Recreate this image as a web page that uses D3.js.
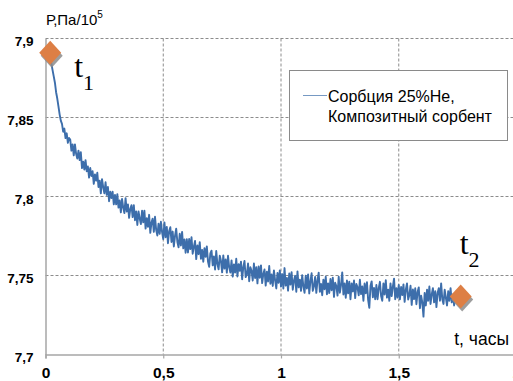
<!DOCTYPE html>
<html><head><meta charset="utf-8">
<script src="https://cdn.jsdelivr.net/npm/d3@7"></script>
<style>body{margin:0;background:#fff}svg{display:block}</style>
</head><body><svg id="c" width="513" height="381"></svg>
<script>
// sampling: t0 = 0.02 h, step 0.005 h
const t0 = 0.02, dt = 0.005;
const pressure = [
7.888,7.884,7.880,7.876,7.872,7.866,7.862,7.857,7.852,7.848,7.846,7.841,7.843,7.837,7.840,7.834,7.837,
7.836,7.829,7.833,7.826,7.833,7.827,7.824,7.829,7.823,7.828,7.818,7.822,7.817,7.823,7.816,7.819,7.812,7.818,7.813,7.816,
7.808,7.814,7.810,7.815,7.806,7.810,7.802,7.811,7.806,7.802,7.809,7.801,7.806,7.797,7.803,7.799,7.803,7.795,7.801,7.795,
7.8015,7.793,7.7975,7.790,7.7985,7.793,7.7895,7.799,7.7905,7.795,7.7865,7.792,7.7945,7.787,7.7945,7.785,7.7905,7.782,7.7905,7.786,
7.7825,7.791,7.7836,7.791,7.7797,7.7863,7.7808,7.7884,7.777,7.7835,7.786,7.7776,7.7872,7.7787,7.7753,7.7828,7.7764,7.784,7.7775,7.773,
7.7836,7.7742,7.7808,7.7704,7.778,7.7806,7.7712,7.7778,7.7684,7.775,7.7796,7.7712,7.7678,7.7764,7.769,7.7776,7.7672,7.7728,7.7644,7.773,
7.7646,7.7731,7.7667,7.7742,7.7638,7.7683,7.7719,7.7604,7.769,7.7635,7.7711,7.7606,7.7662,7.7587,7.7673,7.7618,7.7684,7.7589,7.7555,7.764,
7.7657,7.7564,7.7621,7.7538,7.7655,7.7572,7.7539,7.7626,7.7593,7.752,7.7627,7.7544,7.7601,7.7518,7.7625,7.7552,7.7519,7.7596,7.7493,7.757,
7.7518,7.7606,7.7494,7.7572,7.753,7.7588,7.7476,7.7554,7.7592,7.749,7.7508,7.7576,7.7464,7.7552,7.753,7.7468,7.7576,7.7484,7.7552,7.745,
7.7558,7.7486,7.7564,7.7452,7.751,7.7538,7.7436,7.7524,7.7462,7.756,7.7448,7.7506,7.7434,7.7532,7.747,7.7418,7.7516,7.7454,7.7532,7.743,
7.7509,7.7418,7.7547,7.7436,7.7485,7.7404,7.7513,7.7442,7.7521,7.741,7.7469,7.7498,7.7397,7.7526,7.7425,7.7474,7.7403,7.7502,7.7431,7.739,
7.7499,7.7418,7.7507,7.7386,7.7465,7.7514,7.7403,7.7432,7.7491,7.739,7.7469,7.7518,7.7397,7.7446,7.7375,7.7474,7.7413,7.7492,7.7381,7.745,
7.7389,7.7478,7.7407,7.7486,7.7365,7.7454,7.7433,7.7373,7.7492,7.7391,7.7441,7.7520,7.738,7.745,7.7359,7.7468,7.7387,7.7461,7.735,7.745,
7.7399,7.7468,7.7357,7.7446,7.7425,7.7374,7.7473,7.7382,7.7431,7.734,7.7449,7.7388,7.7457,7.7346,7.7295,7.7434,7.7463,7.7362,7.7421,7.735,
7.744,7.735,7.742,7.746,7.737,7.734,7.745,7.738,7.747,7.736,7.741,7.734,7.745,7.737,7.743,7.748,7.735,7.742,7.736,7.744,
7.7349,7.7427,7.7376,7.7444,7.7333,7.7411,7.745,7.7348,7.7377,7.7435,7.7314,7.7412,7.7351,7.7419,7.7318,7.7396,7.7425,7.7293,7.7372,7.733,
7.724,7.739,7.731,7.741,7.734,7.743,7.732,7.738,7.742,7.733,7.740,7.730,7.739,7.742,7.734,7.745,7.735,7.732,7.741,7.736,
7.731,7.740,7.734,7.742,7.733,7.738,7.731,7.739,7.735,7.737
];
const markers = [
  {t: 0.02, p: 7.891, label: "t", sub: "1"},
  {t: 1.763, p: 7.7367, label: "t", sub: "2"}
];
const xTicks = [0, 0.5, 1, 1.5, 2];
const xTickLabels = ["0", "0,5", "1", "1,5", "2"];
const yTicks = [7.7, 7.75, 7.8, 7.85, 7.9];
const yTickLabels = ["7,7", "7,75", "7,8", "7,85", "7,9"];
const seriesName = ["Сорбция 25%Не,", "Композитный сорбент"];

const svg = d3.select("#c");
const x = d3.scaleLinear().domain([0, 2]).range([45.5, 516.5]);
const y = d3.scaleLinear().domain([7.7, 7.9]).range([354.5, 38.5]);
const grid = "#8c8c8c", axisCol = "#a6a6a6";
const sans = "Liberation Sans, Arial, sans-serif";

// gridlines
svg.append("g").selectAll("line").data(yTicks.filter(v => v > 7.7)).join("line")
  .attr("x1", x(0)).attr("x2", 513).attr("y1", d => y(d)).attr("y2", d => y(d))
  .attr("stroke", grid).attr("stroke-width", 1).attr("stroke-dasharray", "3,2");
svg.append("g").selectAll("line").data(xTicks.filter(v => v > 0)).join("line")
  .attr("x1", d => x(d)).attr("x2", d => x(d)).attr("y1", y(7.9)).attr("y2", y(7.7))
  .attr("stroke", grid).attr("stroke-width", 1).attr("stroke-dasharray", "3,2");

// axes
const xAxis = svg.append("g").attr("transform", `translate(0,${y(7.7)})`)
  .call(d3.axisBottom(x).tickValues(xTicks).tickFormat((d, i) => xTickLabels[i]).tickSize(4).tickPadding(5));
const yAxis = svg.append("g").attr("transform", `translate(${x(0)},0)`)
  .call(d3.axisLeft(y).tickValues(yTicks).tickFormat((d, i) => yTickLabels[i]).tickSize(0).tickPadding(12));
[xAxis, yAxis].forEach(a => {
  a.select(".domain").attr("stroke", axisCol).attr("stroke-width", 1.5);
  a.selectAll(".tick line").attr("stroke", axisCol).attr("stroke-width", 1.2);
  a.selectAll("text").attr("fill", "#000").style("font-family", sans).style("font-weight", "bold");
});
yAxis.selectAll("text").style("font-size", "13.5px").attr("dy", "0.5em");
xAxis.selectAll("text").style("font-size", "15.5px").attr("dy", "0.95em");

// series
const data = pressure.map((p, i) => ({t: t0 + i * dt, p}));
svg.append("path").datum(data)
  .attr("fill", "none").attr("stroke", "#3d6eab").attr("stroke-width", 1.9).attr("stroke-linejoin", "round")
  .attr("d", d3.line().x(d => x(d.t)).y(d => y(d.p)));

// markers
const mg = svg.append("g").selectAll("g").data(markers).join("g")
  .attr("transform", d => `translate(${x(d.t)},${y(d.p)})`);
mg.append("path").attr("d", "M0,-12L11,0L0,12L-11,0Z").attr("fill", "#8c8c8c")
  .attr("transform", "translate(1.5,3)").attr("opacity", 0.85);
mg.append("path").attr("d", "M0,-12L11,0L0,12L-11,0Z").attr("fill", "#dd7f45");

// marker labels
const lbl = svg.append("g").selectAll("text").data(markers).join("text")
  .attr("x", (d, i) => i === 0 ? x(d.t) + 24 : x(d.t) - 1)
  .attr("y", (d, i) => i === 0 ? y(d.p) + 24 : y(d.p) - 43)
  .style("font-family", "Liberation Serif, Times New Roman, serif").style("font-size", "32px").attr("fill", "#000");
lbl.append("tspan").text(d => d.label);
lbl.append("tspan").text(d => d.sub).attr("dy", 13).style("font-size", "22px");

// axis titles
const yt = svg.append("text").attr("x", 46).attr("y", 25)
  .style("font-family", sans).style("font-size", "15px");
yt.append("tspan").text("Р,Па/10");
yt.append("tspan").text("5").attr("dy", -7).style("font-size", "10px");
svg.append("text").attr("x", 509).attr("y", 345).attr("text-anchor", "end")
  .style("font-family", sans).style("font-size", "17.5px").text("t, часы");

// legend
const lg = svg.append("g");
lg.append("rect").attr("x", 289.5).attr("y", 70.5).attr("width", 218).attr("height", 70)
  .attr("fill", "#fff").attr("stroke", "#8a8a8a");
lg.append("line").attr("x1", 303).attr("x2", 327).attr("y1", 95.5).attr("y2", 95.5)
  .attr("stroke", "#3d6eab").attr("stroke-width", 1).attr("opacity", 0.7);
lg.append("g").selectAll("text").data(seriesName).join("text")
  .attr("x", 328).attr("y", (d, i) => 102 + i * 19.5)
  .style("font-family", sans).style("font-size", "16px").text(d => d);
</script></body></html>
